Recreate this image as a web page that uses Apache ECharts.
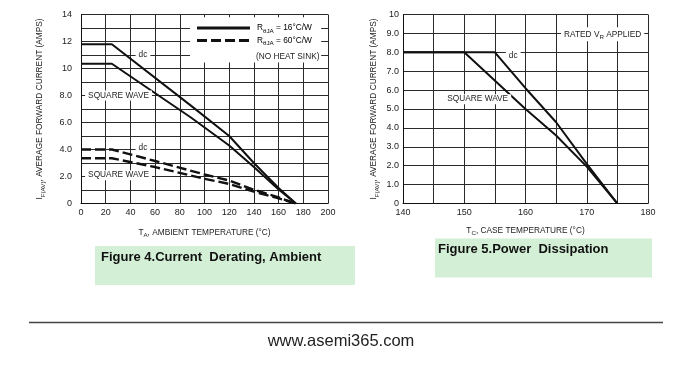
<!DOCTYPE html>
<html>
<head>
<meta charset="utf-8">
<script src="https://cdn.jsdelivr.net/npm/echarts@6/dist/echarts.min.js"></script>
<style>html,body{margin:0;padding:0;background:#fff;}#c{width:700px;height:378px;}</style>
</head>
<body>
<div id="c"></div>
<script>
// ---- Figure 4 (ambient) data ----
const ambDc16 = [[0,11.8],[25,11.8],[89,7.25],[120,5.0],[140,3.0],[160,1.15],[174,0]];
const ambSq16 = [[0,10.35],[25,10.35],[89,6.37],[120,4.3],[140,2.7],[160,1.04],[174,0]];
const ambDc60 = [[0,4.0],[25,4.0],[60,3.15],[100,2.15],[120,1.7],[140,1.02],[160,0.45],[174,0]];
const ambSq60 = [[0,3.35],[25,3.35],[60,2.7],[100,1.83],[120,1.45],[140,0.88],[160,0.38],[174,0]];
const ambYTickLabels = {0:'0',2:'2.0',4:'4.0',6:'6.0',8:'8.0',10:'10',12:'12',14:'14'};
// ---- Figure 5 (case) data ----
const caseDc = [[140,8],[155,8],[160,6.1],[165,4.3],[170,2.1],[175,0]];
const caseSq = [[140,8],[150,8],[160,5.0],[165,3.6],[170,1.95],[175,0]];
const caseYTickLabels = {0:'0',1:'1.0',2:'2.0',3:'3.0',4:'4.0',5:'5.0',6:'6.0',7:'7.0',8:'8.0',9:'9.0',10:'10'};
const caseXTickLabels = {140:'140',150:'150',160:'160',170:'170',180:'180'};

function hasFont(f) {
  const c = document.createElement('canvas').getContext('2d');
  const s = 'SQUARE WAVE 0123456789 abcdefg';
  c.font = '20px monospace'; const a = c.measureText(s).width;
  c.font = "20px '" + f + "', monospace"; const b = c.measureText(s).width;
  return Math.abs(a - b) > 0.5;
}
let NF, FS, TFS;
if (hasFont('Liberation Sans Narrow')) { NF = "'Liberation Sans Narrow'"; FS = 9.5; TFS = 10; }
else if (hasFont('Arial Narrow')) { NF = "'Arial Narrow'"; FS = 9.5; TFS = 10; }
else { NF = "'Liberation Sans',Arial,sans-serif"; FS = 8.3; TFS = 9; }
const SFS = FS * 0.75;

const GRID = '#2a2a2a';
const TXT = '#222';
const rich = {
  n: {fontFamily: NF, fontSize: FS, color: TXT, lineHeight: 12, verticalAlign: 'middle'},
  s: {fontFamily: NF, fontSize: SFS, color: TXT, lineHeight: 7, verticalAlign: 'bottom'}
};

const chart = echarts.init(document.getElementById('c'), null, {renderer: 'canvas'});

function valAxis(o) {
  return Object.assign({
    type: 'value',
    axisLine: {show: true, onZero: false, lineStyle: {color: '#111', width: 1}},
    axisTick: {show: false},
    splitLine: {show: true, lineStyle: {color: GRID, width: 1}},
    nameTextStyle: {rich: rich}
  }, o);
}
const lab = (margin, fmt) => ({fontFamily: NF, fontSize: TFS, color: TXT, margin: margin, formatter: fmt});

const lineS = (data, x, dash, w) => ({
  type: 'line', data: data, xAxisIndex: x, yAxisIndex: x, symbol: 'none', silent: true,
  lineStyle: {color: '#111', width: w, type: dash ? [10, 4] : 'solid'}, z: 5
});

chart.setOption({
  backgroundColor: '#fff',
  animation: false,
  grid: [
    {left: 81, top: 14.5, width: 247, height: 189},
    {left: 403, top: 14.5, width: 245, height: 189}
  ],
  xAxis: [
    valAxis({gridIndex: 0, min: 0, max: 200, interval: 20, axisLabel: lab(5),
      name: '{n|T}{s|A}{n|, AMBIENT TEMPERATURE (°C)}', nameLocation: 'middle', nameGap: 23}),
    valAxis({gridIndex: 1, min: 140, max: 180, interval: 5,
      axisLabel: lab(5, v => caseXTickLabels[v] || ''),
      name: '{n|T}{s|C}{n|, CASE TEMPERATURE (°C)}', nameLocation: 'middle', nameGap: 21})
  ],
  yAxis: [
    valAxis({gridIndex: 0, min: 0, max: 14, interval: 1,
      axisLabel: lab(9, v => ambYTickLabels[v] || ''),
      name: '{n|I}{s|F(AV)}{n|, AVERAGE FORWARD CURRENT (AMPS)}', nameLocation: 'middle', nameGap: 35}),
    valAxis({gridIndex: 1, min: 0, max: 10, interval: 1,
      axisLabel: lab(4, v => caseYTickLabels[v] || ''),
      name: '{n|I}{s|F(AV)}{n|, AVERAGE FORWARD CURRENT (AMPS)}', nameLocation: 'middle', nameGap: 23})
  ],
  series: [
    lineS(ambDc16, 0, false, 2),
    lineS(ambSq16, 0, false, 2),
    lineS(ambDc60, 0, true, 2.4),
    lineS(ambSq60, 0, true, 2.4),
    lineS(caseDc, 1, false, 2),
    lineS(caseSq, 1, false, 2)
  ]
});

function px(g, p) { return chart.convertToPixel({gridIndex: g}, p); }
function label(g, p, text, opts) {
  const q = px(g, p);
  return {
    type: 'text', x: q[0], y: q[1], z: 10,
    style: Object.assign({text: text, fontFamily: NF, fontSize: FS, fill: TXT,
      align: 'center', verticalAlign: 'middle', backgroundColor: '#fff', padding: [1, 3]}, opts || {})
  };
}

const g = [];
// legend box (white), covering grid lines
const lb0 = px(0, [88.3, 13.8]), lb1 = px(0, [194.5, 10.45]);
g.push({type: 'rect', z: 8, shape: {x: lb0[0], y: lb0[1], width: lb1[0] - lb0[0], height: lb1[1] - lb0[1]}, style: {fill: '#fff'}});
g.push({type: 'line', z: 9, shape: {x1: 197, y1: 28, x2: 250, y2: 28}, style: {stroke: '#111', lineWidth: 2.8}});
g.push({type: 'line', z: 9, shape: {x1: 197, y1: 40.5, x2: 250, y2: 40.5}, style: {stroke: '#111', lineWidth: 2.8, lineDash: [10, 4]}});
g.push({type: 'text', z: 10, x: 257, y: 28, style: {text: '{n|R}{s|θJA}{n| = 16°C/W}', rich: rich, align: 'left', verticalAlign: 'middle'}});
g.push({type: 'text', z: 10, x: 257, y: 40.5, style: {text: '{n|R}{s|θJA}{n| = 60°C/W}', rich: rich, align: 'left', verticalAlign: 'middle'}});
g.push({type: 'text', z: 10, x: 256, y: 56.5, style: {text: '(NO HEAT SINK)', fontFamily: NF, fontSize: FS, fill: TXT, align: 'left', verticalAlign: 'middle'}});
// curve labels fig 4
g.push(label(0, [50.2, 11.05], 'dc'));
g.push(label(0, [30.4, 8.0], 'SQUARE WAVE'));
g.push(label(0, [50.2, 4.15], 'dc'));
g.push(label(0, [30.4, 2.1], 'SQUARE WAVE'));
// curve labels fig 5
g.push(label(1, [158, 7.8], 'dc'));
g.push(label(1, [152.2, 5.52], 'SQUARE WAVE'));
g.push(label(1, [172.6, 8.95], '{n|RATED V}{s|R}{n| APPLIED}', {rich: rich}));
// caption boxes
const CF = "'Liberation Sans',Arial,sans-serif";
g.push({type: 'rect', z: 1, shape: {x: 95, y: 246, width: 260, height: 39}, style: {fill: '#d3efd5'}});
g.push({type: 'text', z: 2, x: 101, y: 257, style: {text: 'Figure 4.Current  Derating, Ambient', fontFamily: CF, fontWeight: 'bold', fontSize: 13, fill: '#111', align: 'left', verticalAlign: 'middle'}});
g.push({type: 'rect', z: 1, shape: {x: 435, y: 238.5, width: 217, height: 39}, style: {fill: '#d3efd5'}});
g.push({type: 'text', z: 2, x: 438, y: 249.5, style: {text: 'Figure 5.Power  Dissipation', fontFamily: CF, fontWeight: 'bold', fontSize: 13, fill: '#111', align: 'left', verticalAlign: 'middle'}});
// footer
g.push({type: 'line', z: 1, shape: {x1: 29, y1: 322.5, x2: 663, y2: 322.5}, style: {stroke: '#444', lineWidth: 1.3}});
g.push({type: 'text', z: 2, x: 341, y: 341, style: {text: 'www.asemi365.com', fontFamily: CF, fontSize: 16.5, fill: '#222', align: 'center', verticalAlign: 'middle'}});

chart.setOption({graphic: g});
</script>
</body>
</html>
